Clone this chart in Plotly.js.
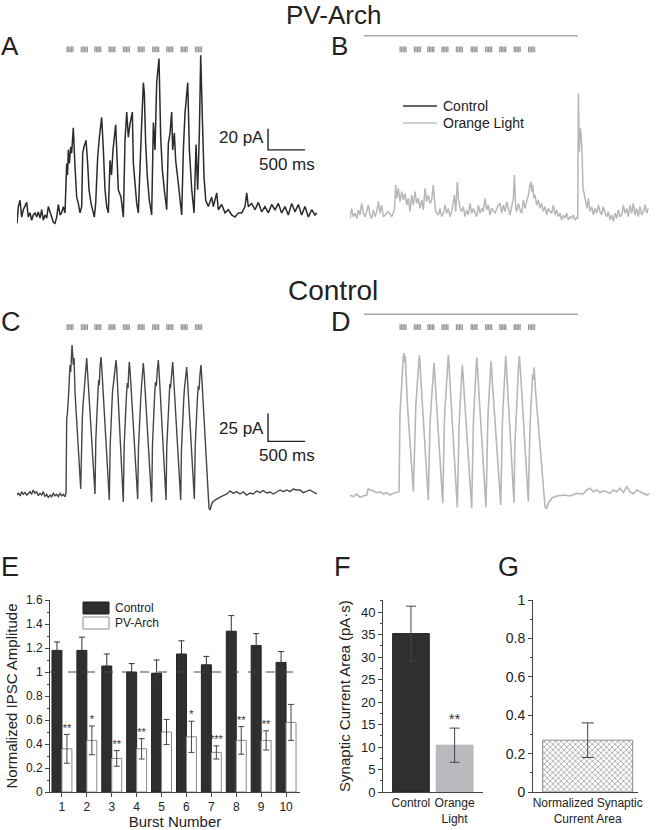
<!DOCTYPE html>
<html>
<head>
<meta charset="utf-8">
<script src="https://cdn.plot.ly/plotly-3.0.1.min.js"></script>
<style>
  html, body { margin: 0; padding: 0; background: #fff; }
  #fig { width: 666px; height: 830px; }
</style>
</head>
<body>
<div id="fig"></div>
<script>
// ---- recordings (time in ms, current in pA) ----
// A: PV-Arch, control
const tA = [0,18,41,63,85,108,131,153,176,198,220,243,266,288,311,333,355,378,401,423,446,468,490,513,536,558,581,603,625,648,
  671,682,693,707,725,738,760,783,806,828,851,873,
  887,905,932,954,972,999,1022,1044,
  1062,1089,1112,1143,1166,1188,1211,1233,
  1256,1276,1296,1332,1368,1404,1436,
  1449,1458,1481,1503,1526,1557,1571,1593,1616,1638,
  1661,1683,1706,1719,1737,1760,1786,1818,
  1841,1863,1886,1917,1940,1962,1989,2021,
  2043,2066,2088,2102,2124,2142,2178,2201,2223,
  2246,2268,2305,2327,2359,2390,
  2417,2439,2462,2480,2502,2525,2548,2583,
  2628,2651,2696,2718,2763,2808,2853,2898,2943,2988,3033,3078,3101,3123,3168,3213,3258,3303,3348,3393,
  3438,3483,3528,3573,3618,3663,3708,3753,3798,3843,3888,3933,3978,4023,4050];
const iA = [-8,8,14,-2,5,8,12,-2,2,-5,0,2,-2,3,-3,5,-5,0,-3,8,2,-3,-7,-8,-2,10,0,2,8,2,
  49,38,62,49,65,59,83,46,17,11,2,8,
  59,65,71,49,24,11,5,-2,
  11,55,74,93,62,24,8,2,
  52,38,62,86,24,17,-2,
  36,71,98,74,87,98,49,30,11,2,
  55,87,126,116,68,36,14,0,
  88,62,126,149,74,43,24,5,
  68,78,98,62,78,52,30,11,0,
  62,97,126,62,24,2,
  67,24,78,152,93,36,14,8,
  17,8,21,5,10,2,5,0,-2,2,2,8,21,8,11,5,12,3,8,2,
  10,5,11,2,8,0,11,3,10,0,8,-2,5,0,2];

// B: PV-Arch, orange light
const tB = [0,23,45,68,90,113,135,158,180,203,225,248,270,293,315,338,360,383,405,428,450,495,518,563,599,617,630,653,675,698,
  720,743,765,788,810,833,855,878,900,923,945,968,990,1013,1035,1058,1080,1103,1125,1139,1157,1193,1215,1238,1260,1283,1305,1328,1350,1373,
  1395,1409,1427,1449,1463,1485,1508,1530,1553,1575,1598,1620,1643,1665,1710,1733,1755,1778,1800,1823,1845,1868,1890,1913,1958,2003,
  2025,2048,2070,2093,2115,2138,2160,2183,2205,2219,2237,2250,2273,2295,2318,2340,2363,2385,2408,2430,
  2444,2453,2466,2484,2498,2520,2543,2565,2588,2610,2633,2655,2678,2700,2723,2745,2768,2790,2813,2835,
  2858,2880,2903,2925,2948,2970,2993,3015,3038,3060,3074,3083,3096,3110,3119,3132,3146,3164,3182,3200,
  3218,3240,3263,3285,3308,3330,3353,3375,3398,3420,3443,3465,3488,3510,3533,3555,3578,3600,3623,3645,
  3668,3690,3713,3735,3758,3780,3803,3825,3848,3870,3893,3915,3938,3960,3983,4005,4028];
const iB = [-3.2,6.3,-1.6,1.6,-3.2,4.8,0,11.1,1.6,-1.6,3.2,9.5,0,-3.2,4.8,-1.6,3.2,12.7,1.6,9.5,-1.6,1.6,3.2,-1.6,4.8,28.6,15.9,25.4,12.7,22.2,
  14.3,20.6,9.5,15.9,3.2,19,9.5,22.2,11.1,15.9,6.3,14.3,4.8,25.4,12.7,19,11.1,14.3,28.6,15.9,3.2,0,6.3,-1.6,1.6,9.5,1.6,6.3,-1.6,3.2,
  14.3,19,3.2,31.7,15.9,6.3,3.2,7.9,-1.6,4.8,0,11.1,1.6,6.3,-1.6,9.5,1.6,6.3,3.2,15.9,4.8,9.5,0,6.3,1.6,9.5,
  11.1,1.6,9.5,3.2,12.7,4.8,0,7.9,15.9,38.1,6.3,3.2,11.1,4.8,1.6,14.3,6.3,12.7,19,28.6,
  31.7,22.2,28.6,15.9,19,9.5,14.3,6.3,11.1,3.2,7.9,0,6.3,3.2,1.6,9.5,0,4.8,-1.6,1.6,
  -4.8,0,-3.2,1.6,-4.8,-1.6,-3.2,0,-4.8,-2.5,-3.2,116,60.3,82.5,77.8,60.3,25.4,19,11.1,6.3,
  15.9,3.2,7.9,0,6.3,1.6,9.5,3.2,0,7.9,1.6,-1.6,3.2,-4.8,0,-6.3,1.6,-3.2,4.8,-1.6,
  0,9.5,1.6,6.3,-1.6,9.5,1.6,11.1,0,6.3,-1.6,7.9,0,3.2,9.5,1.6,6.3];

// C: control mouse, control
const tC = [0,18,41,63,85,108,131,153,176,198,220,243,266,288,311,333,355,378,401,423,446,468,490,513,536,558,581,603,625,648,662,
  671,679,698,706,716,725,733,743,752,760,770,783,860,
  871,882,891,905,914,922,932,941,949,959,1053,
  1064,1073,1084,1094,1103,1111,1120,1134,1143,1152,1246,
  1258,1269,1278,1289,1300,1310,1323,1337,1346,1354,1435,
  1447,1458,1467,1478,1489,1499,1508,1516,1526,1535,1629,
  1640,1651,1661,1671,1681,1690,1699,1705,1715,1724,1818,
  1829,1840,1850,1860,1870,1881,1895,1908,1917,1926,2012,
  2022,2034,2043,2052,2063,2072,2086,2102,2110,2120,2210,
  2221,2232,2241,2252,2261,2271,2282,2291,2299,2309,2394,
  2406,2417,2427,2437,2448,2457,2471,2484,2492,2501,2592,2606,
  2633,2673,2714,2768,2835,2876,2920,2966,3011,3055,3101,3146,3190,3236,3281,3325,
  3371,3416,3460,3506,3551,3595,3641,3686,3730,3776,3821,3865,3911,3956,4000,4046];
const iC = [-1,1,-1.8,2.1,-0.3,1.5,-0.9,0.6,2.1,-0.3,3.6,0.6,2.1,-1.5,0.6,-0.9,2.1,-2.4,-0.3,-3.3,-0.9,-2.4,0.6,-1.5,-0.3,-2.4,0.6,-1.5,-0.3,-2.4,0.6,
  67.9,70.5,91.1,104.5,115.2,108.9,126.8,133,124.1,115.2,121.4,91.1,4.5,
  48.2,67.9,79.5,91.1,99.1,105.4,110.7,121.4,112.5,101.8,0,
  48.2,67.9,82.1,92.9,101.8,97.3,112.5,122.3,114.3,103.6,-5.4,
  43.8,66.1,79.5,91.1,97.3,103.6,110.7,119.6,112.5,101.8,-7.1,
  43.8,64.3,76.8,88.4,99.1,94.6,108.9,117.9,110.7,100,-4.5,
  41.1,61.6,75,85.7,96.4,103.6,110.7,117,108.9,98.2,-7.1,
  43.8,66.1,79.5,91.1,100,96.4,110.7,119.6,110.7,100,-5.4,
  42.9,64.3,78.6,89.3,98.2,94.6,108.9,117.9,108.9,98.2,-5.4,
  41.1,61.6,75,85.7,94.6,101.8,107.1,113.4,105.4,94.6,-4.5,
  42.9,62.5,76.8,87.5,96.4,92.9,107.1,115.2,107.1,96.4,-12.5,-14.3,
  -8,-5.4,-3.6,-1.8,0,2.7,0.6,2.1,0,1.8,-0.9,0.9,0,2.7,1.2,3.1,
  0.9,1.8,0,2.1,3.6,2.1,3.6,2.1,4.5,3.6,3.6,1.2,2.1,3.6,1.8,0];

// D: control mouse, orange light
const tD = [0,45,90,135,180,225,247,270,315,360,405,450,495,540,585,630,662,
  675,684,698,711,720,729,738,747,756,774,855,
  869,878,889,901,911,922,936,945,955,1057,
  1069,1080,1091,1103,1114,1125,1134,1144,1152,1252,
  1262,1273,1283,1293,1305,1316,1327,1337,1346,1449,
  1461,1472,1481,1492,1501,1509,1516,1526,1535,1643,
  1654,1665,1674,1685,1694,1704,1710,1719,1728,1836,
  1847,1859,1868,1877,1886,1895,1904,1913,1922,2035,
  2046,2057,2066,2076,2084,2093,2103,2111,2120,2214,
  2225,2237,2246,2255,2266,2275,2287,2297,2307,2407,
  2419,2430,2440,2448,2457,2466,2475,2484,2494,2502,2633,2655,
  2677,2723,2790,2880,2970,3060,3150,3195,3240,3285,3330,3375,3420,3465,
  3510,3555,3600,3645,3690,3735,3780,3825,3870,3915,3960,4005,4041];
const iD = [-0.9,-2.4,0,-2.9,-1.8,-0.9,5.1,3.6,2.9,1.2,2.1,0,1.2,-0.9,0.6,1.2,2.1,
  72.1,83.9,104.5,112.5,122.3,125.9,117.9,123.2,103.6,81.3,2.1,
  43.8,66.1,79.5,91.1,101.8,112.5,124.1,116.1,103.6,-5.4,
  41.1,61.6,75,85.7,96.4,107.1,117.2,108.9,98.2,-8.3,
  39.3,61.6,76.8,89.3,101.8,112.5,124.1,116.1,103.6,-11.9,
  37.5,58.9,73.2,85.7,96.4,107.1,115.2,107.1,96.4,-12.8,
  39.3,61.6,76.8,89.3,101.8,112.5,122.1,114.3,103.6,-11.9,
  39.3,61.6,76.8,89.3,100,110.7,119,110.7,100,-9.8,
  41.1,62.5,77.7,91.1,103.6,114.3,123.2,114.3,103.6,-7.8,
  41.1,62.5,77.7,91.1,103.6,114.3,123.2,114.3,103.6,-6.9,
  41.1,60.7,75,87.5,98.2,107.1,101.8,113.1,105.4,94.6,-11.6,-12.8,
  -8.3,-3.8,-1.8,-0.9,-1.8,0.6,0,3.6,5.1,2.1,3.6,1.2,2.9,2.1,
  0.6,3.6,2.1,5.1,1.2,6.5,2.1,0,3.6,2.1,1.2,-0.9,0];

// stimulation: 10 bursts of 5 pulses, orange light window (ms)
const stimOnsets = [676, 870, 1051, 1242, 1437, 1636, 1832, 2022, 2217, 2411];
const pulsesPerBurst = 5;
const pulseInterval = 20;
const lightOn = 189, lightOff = 3078;

// ---- panel E ----
const bursts = [1, 2, 3, 4, 5, 6, 7, 8, 9, 10];
const ctrlMean = [1.18, 1.18, 1.05, 1.00, 0.99, 1.15, 1.06, 1.34, 1.22, 1.08];
const ctrlErr  = [0.07, 0.11, 0.10, 0.07, 0.11, 0.11, 0.07, 0.13, 0.10, 0.09];
const archMean = [0.36, 0.43, 0.28, 0.36, 0.50, 0.46, 0.33, 0.43, 0.43, 0.58];
const archErr  = [0.12, 0.12, 0.065, 0.085, 0.105, 0.13, 0.055, 0.115, 0.08, 0.15];
const archStars = ['**', '*', '**', '**', '', '*', '***', '**', '**', ''];

// ---- panel F ----
const areaCats = ['Control', 'Orange<br>Light'];
const areaMean = [35.2, 10.4];
const areaErr = [6.1, 3.8];
const areaStars = ['', '**'];

// ---- panel G ----
const normCats = ['Normalized Synaptic<br>Current Area'];
const normArea = [0.27];
const normAreaErr = [0.09];

// ---- layout helpers (pixel -> paper) ----
const W = 666, H = 830;
const px = x => x / W;
const py = y => 1 - y / H;
const FONT = 'Liberation Sans, Arial, sans-serif';
const INK = '#222';

// scale bars (corner position and size in data units)
const scaleA = { t: 3389, i: 62, dt: 500, di: 20 };
const scaleC = { t: 3389, i: 47, dt: 500, di: 25 };

function stimShapes(xref, yTopPx, yBotPx) {
  const out = [];
  stimOnsets.forEach(t0 => {
    for (let k = 0; k < pulsesPerBurst; k++) {
      const t = t0 + k * pulseInterval;
      out.push({ type: 'line', xref: xref, yref: 'paper', x0: t, x1: t,
        y0: py(yBotPx), y1: py(yTopPx), line: { color: '#9a9a9a', width: 1.3 } });
    }
  });
  return out;
}

function scaleTrace(sb, xa, ya) {
  return { x: [sb.t, sb.t, sb.t + sb.dt], y: [sb.i + sb.di, sb.i, sb.i],
    xaxis: xa, yaxis: ya, mode: 'lines', line: { color: INK, width: 1.4 },
    hoverinfo: 'skip', showlegend: false };
}

const traces = [
  { x: tA, y: iA, xaxis: 'x', yaxis: 'y', mode: 'lines', line: { color: '#2b2b2b', width: 1.5 }, showlegend: false },
  scaleTrace(scaleA, 'x', 'y'),
  { x: tB, y: iB, xaxis: 'x2', yaxis: 'y2', mode: 'lines', line: { color: '#b6b7bb', width: 1.5 }, showlegend: false },
  { x: tC, y: iC, xaxis: 'x3', yaxis: 'y3', mode: 'lines', line: { color: '#454545', width: 1.4 }, showlegend: false },
  scaleTrace(scaleC, 'x3', 'y3'),
  { x: tD, y: iD, xaxis: 'x4', yaxis: 'y4', mode: 'lines', line: { color: '#b6b7bb', width: 1.6 }, showlegend: false },

  // E
  { type: 'bar', x: bursts, y: ctrlMean, xaxis: 'x5', yaxis: 'y5', width: 0.4, offset: -0.4,
    marker: { color: '#2f2f2f', line: { color: '#222', width: 1 } },
    error_y: { type: 'data', array: ctrlErr, color: '#333', thickness: 1, width: 3 }, showlegend: false },
  { type: 'bar', x: bursts, y: archMean, xaxis: 'x5', yaxis: 'y5', width: 0.4, offset: 0,
    marker: { color: '#ffffff', line: { color: '#8a8a8a', width: 1 } },
    error_y: { type: 'data', array: archErr, color: '#444', thickness: 1, width: 3 }, showlegend: false },
  { x: bursts.map(b => b + 0.2), y: archMean.map((m, k) => m + archErr[k]), text: archStars,
    xaxis: 'x5', yaxis: 'y5', mode: 'text', textposition: 'top center',
    textfont: { family: FONT, size: 11, color: '#333' }, cliponaxis: false, showlegend: false },

  // F
  { type: 'bar', x: areaCats, y: areaMean, xaxis: 'x6', yaxis: 'y6', width: 0.84,
    marker: { color: ['#2f2f2f', '#b9babe'], line: { color: ['#222', '#b0b1b5'], width: 1 } },
    error_y: { type: 'data', array: areaErr, color: '#444', thickness: 1, width: 5 }, showlegend: false },
  { x: areaCats, y: areaMean.map((m, k) => m + areaErr[k]), text: areaStars,
    xaxis: 'x6', yaxis: 'y6', mode: 'text', textposition: 'top center',
    textfont: { family: FONT, size: 15, color: '#333' }, cliponaxis: false, showlegend: false },

  // G
  { type: 'bar', x: normCats, y: normArea, xaxis: 'x7', yaxis: 'y7', width: 0.9,
    marker: { color: '#ffffff', line: { color: '#8c8c8c', width: 1 },
      pattern: { shape: 'x', fgcolor: '#8a8a8a', bgcolor: '#ffffff', size: 4, solidity: 0.3 } },
    error_y: { type: 'data', array: normAreaErr, color: '#444', thickness: 1, width: 6 }, showlegend: false }
];

const hidden = { visible: false, fixedrange: true };
const traceXA = { ...hidden, domain: [px(17), px(317)], range: [0, 4050] };
const traceXB = { ...hidden, domain: [px(350), px(650)], range: [0, 4050] };
const rowTop = [py(230), py(50)], rowMid = [py(515), py(335)];
const barY = [py(792), py(600)];

const tickFont = s => ({ family: FONT, size: s, color: INK });
const statAxis = {
  showline: true, linecolor: '#444', linewidth: 1, showgrid: false, zeroline: false,
  ticks: 'outside', ticklen: 4, tickcolor: '#444', fixedrange: true
};

const shapes = [
  ...stimShapes('x', 46.5, 52.3),
  ...stimShapes('x2', 46.5, 52.3),
  ...stimShapes('x3', 324.3, 330),
  ...stimShapes('x4', 324.3, 330),
  { type: 'line', xref: 'x2', yref: 'paper', x0: lightOn, x1: lightOff, y0: py(35.7), y1: py(35.7), line: { color: '#aaaaae', width: 1.4 } },
  { type: 'line', xref: 'x4', yref: 'paper', x0: lightOn, x1: lightOff, y0: py(314.3), y1: py(314.3), line: { color: '#aaaaae', width: 1.4 } },
  // legend of B
  { type: 'line', xref: 'paper', yref: 'paper', x0: px(403), x1: px(437), y0: py(106), y1: py(106), line: { color: '#333', width: 1.3 } },
  { type: 'line', xref: 'paper', yref: 'paper', x0: px(403), x1: px(437), y0: py(123), y1: py(123), line: { color: '#bfc0c4', width: 1.3 } },
  // legend of E
  { type: 'rect', xref: 'paper', yref: 'paper', x0: px(83), x1: px(109), y0: py(614), y1: py(602), fillcolor: '#2f2f2f', line: { color: '#222', width: 1 } },
  { type: 'rect', xref: 'paper', yref: 'paper', x0: px(83), x1: px(109), y0: py(629), y1: py(617), fillcolor: '#fff', line: { color: '#8a8a8a', width: 1 } },
  // reference level in E
  { type: 'line', xref: 'x5', yref: 'y5', x0: 0.52, x1: 10.56, y0: 1, y1: 1, line: { color: '#444', width: 1, dash: 'dash' } }
];

function label(text, xPx, yPx, size, anchor) {
  return { text: text, xref: 'paper', yref: 'paper', x: px(xPx), y: py(yPx), showarrow: false,
    xanchor: anchor || 'left', yanchor: 'middle', font: { family: FONT, size: size, color: INK } };
}

const annotations = [
  label('PV-Arch', 333, 15.5, 26, 'center'),
  label('Control', 333, 290, 28, 'center'),
  label('A', -1, 46, 26), label('B', 329, 46, 26),
  label('C', -1, 322, 27), label('D', 329, 322, 27),
  label('E', -1, 567, 27), label('F', 332, 567, 27), label('G', 496, 567, 27),
  label('Control', 441, 106, 14), label('Orange Light', 441, 123, 14),
  label('Control', 113, 608, 12), label('PV-Arch', 113, 623, 12),
  // scale bar labels
  { text: scaleA.di + ' pA', xref: 'x', yref: 'y', x: scaleA.t, y: scaleA.i + scaleA.di / 2 + 2, xanchor: 'right', yanchor: 'middle',
    xshift: -2, showarrow: false, font: { family: FONT, size: 17, color: INK } },
  { text: scaleA.dt + ' ms', xref: 'x', yref: 'y', x: scaleA.t + scaleA.dt / 2, y: scaleA.i, xanchor: 'center', yanchor: 'top',
    yshift: -3, showarrow: false, font: { family: FONT, size: 17, color: INK } },
  { text: scaleC.di + ' pA', xref: 'x3', yref: 'y3', x: scaleC.t, y: scaleC.i + scaleC.di / 2 - 1, xanchor: 'right', yanchor: 'middle',
    xshift: -2, showarrow: false, font: { family: FONT, size: 17, color: INK } },
  { text: scaleC.dt + ' ms', xref: 'x3', yref: 'y3', x: scaleC.t + scaleC.dt / 2, y: scaleC.i, xanchor: 'center', yanchor: 'top',
    yshift: -3, showarrow: false, font: { family: FONT, size: 17, color: INK } }
];

const layout = {
  width: W, height: H, autosize: false,
  margin: { l: 0, r: 0, t: 0, b: 0 },
  paper_bgcolor: '#fff', plot_bgcolor: 'rgba(0,0,0,0)',
  font: { family: FONT, color: INK },
  showlegend: false, barmode: 'overlay',
  xaxis: { ...traceXA }, yaxis: { ...hidden, domain: rowTop, range: [-14.3, 157.1] },
  xaxis2: { ...traceXB }, yaxis2: { ...hidden, domain: rowTop, range: [-14.3, 157.1] },
  xaxis3: { ...traceXA }, yaxis3: { ...hidden, domain: rowMid, range: [-18.75, 142] },
  xaxis4: { ...traceXB }, yaxis4: { ...hidden, domain: rowMid, range: [-18.75, 142] },

  xaxis5: { ...statAxis, anchor: 'y5', domain: [px(50), px(300)], range: [0.52, 10.56],
    tickvals: bursts, tickfont: tickFont(12),
    title: { text: 'Burst Number', font: { family: FONT, size: 15, color: INK }, standoff: 3 } },
  yaxis5: { ...statAxis, anchor: 'x5', domain: barY, range: [0, 1.6], dtick: 0.2, tickfont: tickFont(12),
    minor: { ticks: 'outside', ticklen: 2, dtick: 0.1, tickcolor: '#444' },
    title: { text: 'Normalized IPSC Amplitude', font: { family: FONT, size: 15, color: INK }, standoff: 4 } },

  xaxis6: { ...statAxis, anchor: 'y6', domain: [px(383), px(483)], range: [-0.64, 1.65],
    type: 'category', ticks: '', tickfont: tickFont(12) },
  yaxis6: { ...statAxis, anchor: 'x6', domain: barY, range: [0, 42.67], dtick: 5, tickfont: tickFont(13),
    minor: { ticks: 'outside', ticklen: 2, dtick: 2.5, tickcolor: '#444' },
    title: { text: 'Synaptic Current Area (pA·s)', font: { family: FONT, size: 15, color: INK }, standoff: 6 } },

  xaxis7: { ...statAxis, anchor: 'y7', domain: [px(533), px(638)], range: [-0.547, 0.503],
    type: 'category', ticks: '', tickfont: tickFont(12) },
  yaxis7: { ...statAxis, anchor: 'x7', domain: barY, range: [0, 1], dtick: 0.2, tickfont: tickFont(14),
    minor: { ticks: 'outside', ticklen: 2, dtick: 0.1, tickcolor: '#444' } },

  shapes: shapes,
  annotations: annotations
};

Plotly.newPlot('fig', traces, layout, { staticPlot: true, displayModeBar: false });
</script>
</body>
</html>
